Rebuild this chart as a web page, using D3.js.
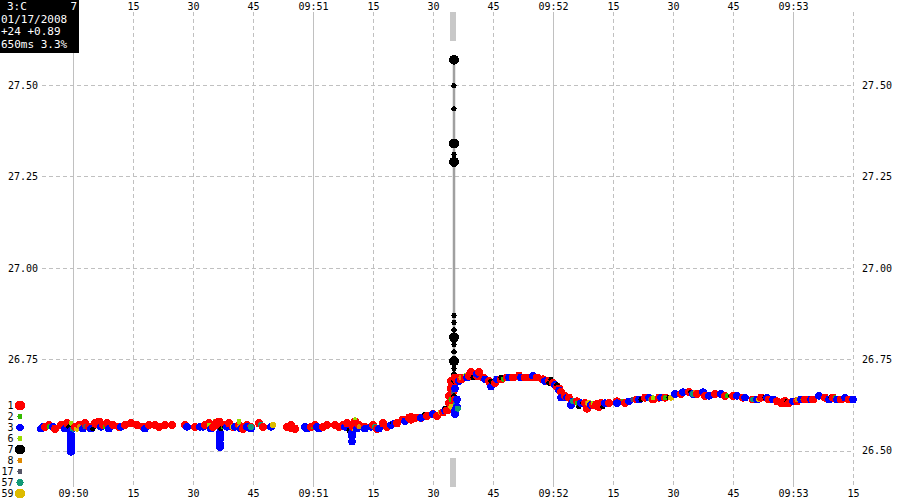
<!DOCTYPE html>
<html><head><meta charset="utf-8">
<script src="https://cdn.jsdelivr.net/npm/d3@7/dist/d3.min.js"></script>
<style>
body{margin:0;background:#fff;}
svg{display:block;}
text{font-family:"DejaVu Sans Mono",monospace;}
</style></head>
<body><svg id="c" width="900" height="500"></svg>
<script>
// ---- data (t = seconds after 09:50:00 on 01/17/2008, price) ----
const infoLines = ["01/17/2008", "+24 +0.89", "650ms 3.3%"];
const infoSymbol = "3:C";
const infoExchange = "7";
const yTickValues = [26.50, 26.75, 27.00, 27.25, 27.50];
const legendIds = ["1","2","3","6","7","8","17","57","59"];
const markerTime = 95;
const spikeTime = 95.25;

const s1 = [[-7,26.565],[-6,26.57],[-4.5,26.56],[-3,26.57],[-1.5,26.575],[0.5,26.565],[1.5,26.57],[3,26.575],[4,26.565],[5.5,26.575],[6.5,26.58],[7.5,26.57],[8.5,26.575],
  [10,26.57],[11.5,26.565],[13,26.57],[14.5,26.575],[16,26.57],[17.5,26.565],[19,26.57],[20.5,26.57],[21.5,26.565],
  [23,26.57],[24.75,26.57],[28,26.57],[30.5,26.565],
  [33,26.57],[34,26.575],[35,26.565],[36,26.57],[36.5,26.58],[38,26.57],[39,26.575],[40,26.565],[41.5,26.57],[42.5,26.56],[43.5,26.57],[44.5,26.565],
  [46.5,26.575],[47.5,26.565],[53.5,26.565],[54.5,26.57],[55.5,26.56],[59.5,26.565],[60.5,26.57],[62.5,26.565],[63.5,26.57],[65.5,26.57],[66.5,26.565],
  [67.5,26.57],[68.5,26.575],[70,26.565],[70.5,26.58],[71.5,26.57],[73,26.565],[75,26.57],[76,26.56],[77.5,26.575],[78.5,26.565],
  [81,26.575],[82.5,26.585],[84,26.59],[84.5,26.585],[85.5,26.59],[87,26.59],[88.5,26.595],[90,26.60],[91,26.595],[92.5,26.605],[93.5,26.61],
  [94,26.63],[94,26.65],[94.5,26.67],[94.5,26.69],[95,26.66],[95,26.68],[95.5,26.70],[95.5,26.64],[96,26.69],[96.5,26.70],[97,26.695],
  [98,26.70],[99,26.705],[99.5,26.715],[100,26.71],[101,26.705],[101.5,26.715],[102.5,26.70],[104,26.69],[104.5,26.68],[105.5,26.685],[107,26.695],[108.5,26.70],[110,26.70],[111.5,26.705],[113,26.70],[114.5,26.70],[116,26.70],[117.5,26.695],[119,26.69],[120,26.685],[121,26.675],[121.5,26.67],[122,26.66],[123,26.65],[124,26.645],[126,26.635],[128,26.63],[128.5,26.615],[130,26.625],[131.5,26.62],[132,26.63],[134,26.63],[136,26.635],[138,26.63],[141,26.64],[143,26.645],[145,26.64],[146.5,26.645],[148,26.645],[152,26.655],[154,26.66],[156,26.655],[158,26.65],[160.5,26.655],[163,26.65],[165,26.65],[167.5,26.645],[170,26.64],[172,26.645],[174,26.64],[176,26.635],[177,26.63],[178,26.635],[179,26.63],[181,26.635],[183,26.64],[185,26.64],[188,26.645],[190,26.645],[192,26.64],[194,26.64]];
const s2 = [[-6,26.565],[8,26.565],[37.5,26.565],[60,26.565],[82,26.585],[94.5,26.64],[107.5,26.695],[126,26.63],[137.5,26.635],[148,26.645],[163.5,26.65],[182.5,26.64],[190.5,26.645]];
const s3 = [[-8,26.56],[-7.5,26.565],[-5,26.565],[-2,26.56],[-0.5,26.555],[-0.5,26.545],[-0.5,26.535],[-0.5,26.525],[-0.5,26.515],[-0.5,26.505],[-0.5,26.497],[2.5,26.56],[4.5,26.56],[7,26.565],[9,26.56],
  [12,26.565],[18,26.56],[28.5,26.565],[31.75,26.565],
  [32.5,26.565],[34.5,26.56],[36.75,26.55],[36.75,26.54],[36.75,26.53],[36.75,26.52],[36.75,26.51],[38.5,26.565],[40.5,26.565],[42,26.56],[43.5,26.565],[44.5,26.56],
  [49.5,26.565],[58,26.565],[58.5,26.56],[61,26.565],[61.5,26.56],[68,26.565],[69.75,26.55],[69.75,26.54],[69.75,26.525],[71,26.56],
  [73,26.56],[74.5,26.565],[76.5,26.56],[79.5,26.57],[80.5,26.575],[83,26.58],[87,26.59],[90,26.60],[93,26.61],
  [95.5,26.60],[95.5,26.61],[96,26.62],[96,26.64],[95.5,26.67],[96.5,26.69],
  [98.5,26.70],[101,26.71],[103,26.695],[104.5,26.675],[106,26.695],[109,26.70],[112,26.70],[115,26.705],[118,26.69],[120.5,26.68],[121.5,26.665],[122,26.645],[123.5,26.645],[124.5,26.625],[125,26.635],[127,26.63],[129.5,26.625],[133,26.63],[136,26.63],[139,26.635],[141.5,26.64],[144,26.645],[147,26.645],[150.5,26.655],[152.5,26.66],[155,26.655],[157.5,26.66],[159,26.65],[162,26.655],[166,26.65],[168,26.645],[171,26.64],[173.5,26.645],[175,26.64],[180,26.635],[182,26.64],[184.5,26.64],[186.5,26.65],[189,26.64],[191,26.64],[193,26.645],[195,26.64]];
const s6 = [[-0.5,26.575],[34,26.57],[35.5,26.58],[36,26.575],[41.5,26.58],[70,26.575],[70.5,26.585],[98,26.705],[130,26.63],[145,26.645]];
const s7 = [[-1,26.565],[5,26.56],[37,26.56],[38,26.565],[69,26.555],[80,26.575],[88,26.60],[93,26.615],[100,26.70],[104.5,26.69],[107,26.70],[119,26.685],[119.5,26.695],[121,26.68],[126.5,26.62],[127.5,26.63],[131,26.625],[132.5,26.62],[142,26.64],[149,26.645],[154.5,26.66],[164.5,26.65],[173,26.645],[178.5,26.635],[189.5,26.645],
  [95.25,27.498],[95.25,27.435],[95.25,27.31],[95.25,26.87],[95.25,26.85],[95.25,26.83],[95.25,26.79],[95.25,26.77],[95.25,26.725],[95.25,26.71],[95.25,26.69],[95.25,26.67],[95.25,26.65]];
const s8 = [[1.5,26.565],[41.5,26.565],[71.5,26.565],[97,26.70],[128.5,26.63],[155.5,26.66],[181,26.64]];
const s17 = [[3,26.565],[95,26.66],[140,26.64]];
const s57 = [[0,26.56],[44.5,26.565],[47,26.57],[75.5,26.565],[95.8,26.63],[96.2,26.615],[125,26.635],[144.5,26.64],[155,26.655],[170,26.64]];
const s59 = [[1,26.56],[40,26.565],[50,26.57],[70.5,26.56],[92,26.605],[94.6,26.62],[129,26.63],[149.5,26.645],[171.5,26.64]];
// large prints: [exchange, t, price]
const blockTrades = [["1",6,26.575],["1",36,26.575],["1",54.5,26.565],["1",70.5,26.57],["1",84.5,26.59],["1",131,26.625],["1",178,26.633],
  ["7",95.25,27.569],["7",95.25,27.34],["7",95.25,27.29],["7",95.25,26.81],["7",95.25,26.745]];

// ---- styles ----
const colors = {"1":"#ff0000","2":"#33bb00","3":"#0000ff","6":"#99dd00","7":"#000000","8":"#dd8800","17":"#555566","57":"#119977","59":"#ddbb00"};
const dotR = {"1":4,"2":2.5,"3":3.8,"6":2.5,"7":2.6,"8":2.5,"17":2.5,"57":3,"59":3};
const blockR = 5;
const legendR = {"1":5,"2":2.5,"3":3.7,"6":2.5,"7":5,"8":2.5,"17":2.5,"57":3.6,"59":5};

const base = new Date(2008,0,17,9,50,0);
const toDate = t => new Date(base.getTime() + t*1000);
const svg = d3.select("#c");

const x = d3.scaleTime().domain([toDate(-7.75), toDate(195)]).range([42, 853]);
const y = d3.scaleLinear().domain([26.5, 27.5]).range([450.7, 85]);

const gridTop = 12, gridBot = 487;
const vt = x.ticks(d3.timeSecond.every(15));
svg.append("g").selectAll("line").data(vt).join("line")
  .attr("x1", d => Math.round(x(d))+0.5).attr("x2", d => Math.round(x(d))+0.5)
  .attr("y1", gridTop).attr("y2", gridBot)
  .attr("stroke", "#c0c0c0").attr("stroke-width", 1)
  .attr("stroke-dasharray", d => d.getSeconds()===0 ? null : "4,3");
svg.append("g").selectAll("line").data(yTickValues).join("line")
  .attr("x1", 42).attr("x2", 853)
  .attr("y1", d => Math.round(y(d))+0.5).attr("y2", d => Math.round(y(d))+0.5)
  .attr("stroke", "#c0c0c0").attr("stroke-dasharray", "4,3");

const fmt = d => d.getSeconds()===0 ? d3.timeFormat("%H:%M")(d) : d3.timeFormat("%S")(d);
const topTicks = vt.filter(d => x(d) > 100 && x(d) < 840);
svg.append("g").attr("transform", `translate(0,${gridTop})`)
  .call(d3.axisTop(x).tickValues(topTicks).tickFormat(fmt).tickSize(0).tickPadding(2.5));
svg.append("g").attr("transform", `translate(0,${gridBot})`)
  .call(d3.axisBottom(x).tickValues(vt).tickFormat(fmt).tickSize(0).tickPadding(3));
const ayL = svg.append("g").call(d3.axisLeft(y).tickValues(yTickValues.filter(v => v > 26.6)).tickFormat(d3.format(".2f")).tickSize(0));
ayL.selectAll("text").attr("x", 8).attr("text-anchor", "start");
const ayR = svg.append("g").call(d3.axisRight(y).tickValues(yTickValues).tickFormat(d3.format(".2f")).tickSize(0));
ayR.selectAll("text").attr("x", 862).attr("text-anchor", "start");
svg.selectAll(".domain").remove();
svg.selectAll(".tick text").attr("font-size", 10).attr("fill", "#000").attr("font-family", "DejaVu Sans Mono, monospace");

// time marker
svg.append("rect").attr("x", x(toDate(markerTime))-3).attr("y", 12).attr("width", 6).attr("height", 29).attr("fill", "#c8c8c8");
svg.append("rect").attr("x", x(toDate(markerTime))-3).attr("y", 458).attr("width", 6).attr("height", 29).attr("fill", "#c8c8c8");

// spike range line
const spikeAll = s7.filter(d => d[0]===spikeTime).map(d => d[1]).concat(blockTrades.filter(d => d[1]===spikeTime).map(d => d[2]));
svg.append("line").attr("x1", x(toDate(spikeTime))).attr("x2", x(toDate(spikeTime)))
  .attr("y1", y(d3.max(spikeAll))).attr("y2", y(d3.min(spikeAll)))
  .attr("stroke", "#a0a0a0").attr("stroke-width", 2.5);

// points
const seriesArr = {"1":s1,"2":s2,"3":s3,"6":s6,"7":s7,"8":s8,"17":s17,"57":s57,"59":s59};
let pts = [];
for (const k of legendIds) for (const d of seriesArr[k]) pts.push({k, t:d[0], p:d[1], r:dotR[k]});
for (const d of blockTrades) pts.push({k:d[0], t:d[1], p:d[2], r:blockR});
pts.sort((a,b) => a.t-b.t);
svg.append("g").attr("shape-rendering", "crispEdges").selectAll("circle").data(pts).join("circle")
  .attr("cx", d => x(toDate(d.t))).attr("cy", d => y(d.p)).attr("r", d => d.r)
  .attr("fill", d => colors[d.k]);

// legend
const lg = svg.append("g");
legendIds.forEach((k,i) => {
  const cy = 405.5 + i*11;
  lg.append("text").attr("x", 13.5).attr("y", cy).attr("dy", "0.35em").attr("text-anchor", "end")
    .attr("font-size", 10).text(k);
  lg.append("circle").attr("cx", 20).attr("cy", cy).attr("r", legendR[k]).attr("fill", colors[k]).attr("shape-rendering","crispEdges");
});

// info box
svg.append("rect").attr("x", 0).attr("y", 0).attr("width", 79).attr("height", 53).attr("fill", "#000");
svg.append("text").attr("x", 7).attr("y", 10).attr("fill", "#fff").attr("font-size", 11).text(infoSymbol);
svg.append("text").attr("x", 77).attr("y", 10).attr("fill", "#fff").attr("font-size", 11).attr("text-anchor","end").text(infoExchange);
infoLines.forEach((s,i) => svg.append("text").attr("x", 1).attr("y", 22.5 + i*12.7).attr("fill", "#fff").attr("font-size", 11).text(s));
</script></body></html>
